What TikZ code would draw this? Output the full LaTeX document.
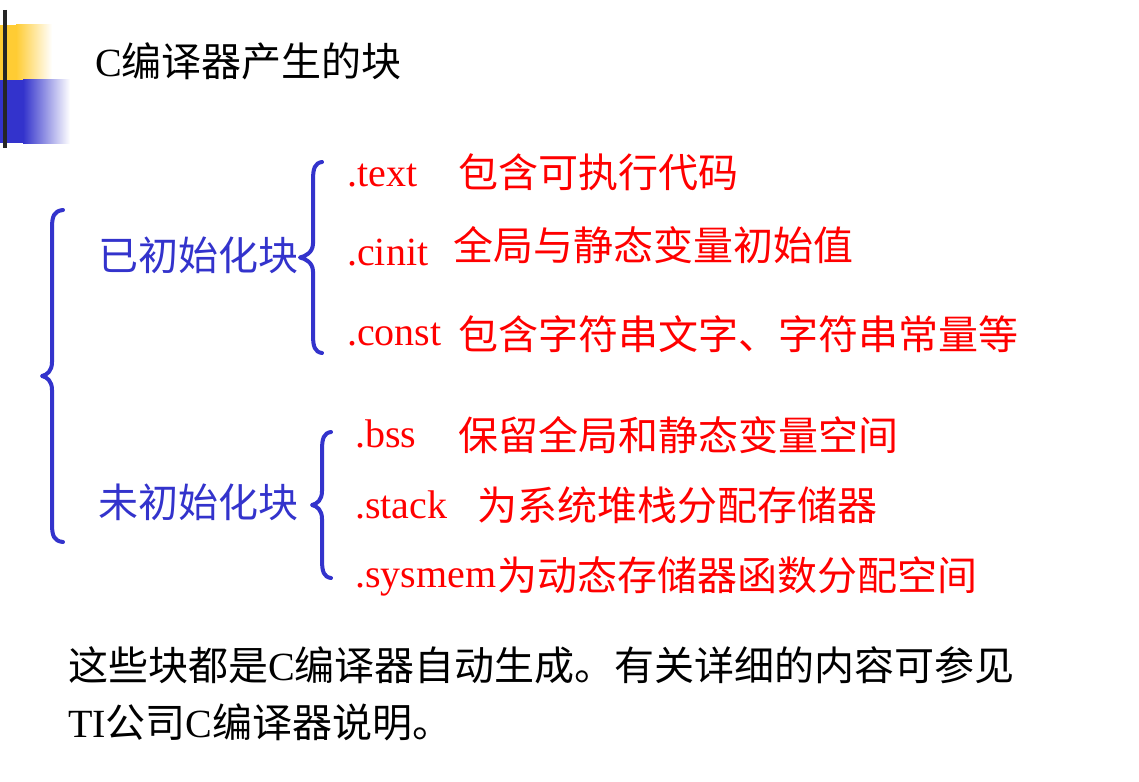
\documentclass[tikz,border=0pt]{standalone}
\usepackage{fontspec}
\setmainfont{Liberation Serif}
\newfontfamily\cjk{Noto Sans CJK SC}
\definecolor{myblue}{HTML}{3333CC}
\definecolor{myyellow}{HTML}{FFCC33}
\definecolor{myred}{HTML}{FF0000}
\newcommand\drawbrace[5]{% #1 line x, #2 end x, #3 top y, #4 tip x, #5 bottom y
  \pgfmathsetmacro\tipy{(#3+#5)/2}
  \draw[bracestyle] (#2,#3) .. controls ({#1+2},{#3+1}) and (#1,{#3+6}) .. (#1,{#3+18})
    -- (#1,{\tipy-14}) .. controls (#1,{\tipy-5}) and ({#4+5},{\tipy-1}) .. (#4,\tipy)
    .. controls ({#4+5},{\tipy+1}) and (#1,{\tipy+5}) .. (#1,{\tipy+14})
    -- (#1,{#5-18}) .. controls (#1,{#5-6}) and ({#1+2},{#5-1}) .. (#2,#5);}
\tikzset{
  bracestyle/.style={draw=myblue, line width=4pt, line cap=round, line join=round},
  txt/.style={inner sep=0pt, anchor=base west, font=\fontsize{40}{48}\selectfont},
  redtxt/.style={txt, text=myred},
  bluetxt/.style={txt, text=myblue},
  blacktxt/.style={txt, text=black},
}
\begin{document}
\begin{tikzpicture}[x=1pt,y=-1pt]
\useasboundingbox (0,0) rectangle (1139,781);
\fill[white] (0,0) rectangle (1139,781);
% top-left decoration
\fill[myyellow] (0,25) rectangle (16,80);
\shade[left color=myyellow, right color=white] (16,25) rectangle (52,80);
\fill[myblue] (0,80) rectangle (23,143);
\shade[left color=myblue, right color=white] (23,80) rectangle (70,143);
\draw[line width=4pt, color=black!85] (5,10) -- (5,148);
% title
\node[blacktxt] (title) at (95,77) {C{\cjk 编译器产生的块}};
% braces
\drawbrace{52}{63}{210}{42}{542}
\drawbrace{313}{322}{162}{300}{353}
\drawbrace{322}{331}{432}{312}{578}
% blue labels
\node[bluetxt] (init) at (98,270) {\cjk 已初始化块};
\node[bluetxt] (uninit) at (98,517) {\cjk 未初始化块};
% sections
\node[redtxt] (text) at (347,186) {.text};
\node[redtxt] (textd) at (458,187) {\cjk 包含可执行代码};
\node[redtxt] (cinit) at (347,265) {.cinit};
\node[redtxt] (cinitd) at (453,260) {\cjk 全局与静态变量初始值};
\node[redtxt] (const) at (347,345) {.const};
\node[redtxt] (constd) at (458,349) {\cjk 包含字符串文字、字符串常量等};
\node[redtxt] (bss) at (355,447) {.bss};
\node[redtxt] (bssd) at (458,450) {\cjk 保留全局和静态变量空间};
\node[redtxt] (stack) at (355,518) {.stack};
\node[redtxt] (stackd) at (477,520) {\cjk 为系统堆栈分配存储器};
\node[redtxt] (sysmem) at (355,587) {.sysmem};
\node[redtxt] (sysmemd) at (497,590) {\cjk 为动态存储器函数分配空间};
% bottom text
\node[blacktxt] (line1) at (68,680) {{\cjk 这些块都是}C{\cjk 编译器自动生成。有关详细的内容可参见}};
\node[blacktxt] (line2) at (68,737) {TI{\cjk 公司}C{\cjk 编译器说明。}};
\end{tikzpicture}
\end{document}
